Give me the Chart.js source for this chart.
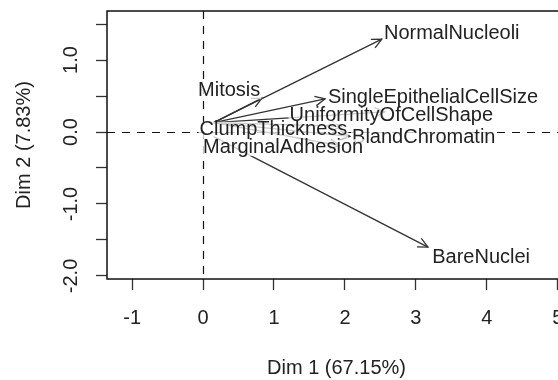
<!DOCTYPE html>
<html>
<head>
<meta charset="utf-8">
<script src="https://cdn.jsdelivr.net/npm/chart.js@4.4.1/dist/chart.umd.min.js"></script>
<style>
  html, body { margin: 0; padding: 0; background: #fff; overflow: hidden; }
  #wrap { width: 580px; height: 380px; }
</style>
</head>
<body>
<div id="wrap"><canvas id="biplot"></canvas></div>
<script>
// variable arrows on Dim 1 / Dim 2 (tips = loadings)
const varNames = ['NormalNucleoli', 'SingleEpithelialCellSize', 'UniformityOfCellShape', 'ClumpThickness',
                  'BlandChromatin', 'MarginalAdhesion', 'Mitosis', 'BareNuclei'];
const tipX = [2.52, 1.72, 2.56, 1.95, 2.07, 1.93, 0.83, 3.17];
const tipY = [1.29, 0.46, 0.28, 0.08, -0.06, -0.19, 0.47, -1.60];
const startX = [0.15, 0.15, 0.15, 0.15, 0.15, 0.15, 0.15, 0.15];
const startY = [0.13, 0.13, 0.13, 0.13, 0.13, 0.13, 0.13, -0.065];
// label anchors (left edge, middle) in Dim units
const labelX = [2.55, 1.76, 1.22, -0.05, 2.10, 0.0, -0.07, 3.23];
const labelY = [1.375, 0.486, 0.236, 0.03, -0.07, -0.21, 0.58, -1.74];

const xTicks = [-1, 0, 1, 2, 3, 4, 5];
const yTicks = [-2, -1.5, -1, -0.5, 0, 0.5, 1, 1.5];
const yLabelled = [-2, -1, 0, 1];

const FONT = '"Liberation Sans", Arial, sans-serif';
const INK = '#222';

const datasets = varNames.map((name, i) => ({
    label: name,
    data: [{ x: startX[i], y: startY[i] }, { x: tipX[i], y: tipY[i] }],
    showLine: true,
    borderColor: '#333',
    borderWidth: 1.3,
    pointRadius: 0,
    pointHoverRadius: 0,
}));

// box, dashed zero lines, arrow heads and labels
const biplotDecor = {
    id: 'biplotDecor',
    beforeDatasetsDraw(chart) {
        const { ctx, chartArea: a, scales: { x, y } } = chart;
        ctx.save();
        ctx.strokeStyle = '#111';
        ctx.lineWidth = 1.2;
        ctx.setLineDash([8, 7]);
        const x0 = Math.round(x.getPixelForValue(0)) + 0.5;
        const y0 = Math.round(y.getPixelForValue(0)) + 0.5;
        ctx.beginPath();
        ctx.moveTo(x0, a.top); ctx.lineTo(x0, a.bottom);
        ctx.moveTo(a.left, y0); ctx.lineTo(a.right, y0);
        ctx.stroke();
        ctx.restore();
    },
    afterDatasetsDraw(chart) {
        const { ctx, chartArea: a, scales: { x, y } } = chart;
        ctx.save();
        // arrow heads (open V)
        ctx.strokeStyle = '#333';
        ctx.lineWidth = 1.3;
        varNames.forEach((n, i) => {
            const sx = x.getPixelForValue(startX[i]), sy = y.getPixelForValue(startY[i]);
            const tx = x.getPixelForValue(tipX[i]), ty = y.getPixelForValue(tipY[i]);
            const ang = Math.atan2(ty - sy, tx - sx);
            const len = 11, spread = Math.PI / 7;
            ctx.beginPath();
            ctx.moveTo(tx - len * Math.cos(ang - spread), ty - len * Math.sin(ang - spread));
            ctx.lineTo(tx, ty);
            ctx.lineTo(tx - len * Math.cos(ang + spread), ty - len * Math.sin(ang + spread));
            ctx.stroke();
        });
        // labels on a light backing so arrows fade behind them
        ctx.font = '20px ' + FONT;
        ctx.textBaseline = 'middle';
        ctx.textAlign = 'left';
        varNames.forEach((n, i) => {
            const lx = x.getPixelForValue(labelX[i]), ly = y.getPixelForValue(labelY[i]);
            const w = ctx.measureText(n).width;
            ctx.fillStyle = 'rgba(255,255,255,0.75)';
            ctx.fillRect(lx - 1, ly - 8, w + 2, 17);
            ctx.fillStyle = INK;
            ctx.fillText(n, lx, ly);
        });
        // plot frame
        ctx.strokeStyle = '#111';
        ctx.lineWidth = 1.5;
        ctx.strokeRect(a.left, a.top, a.right - a.left, a.bottom - a.top);
        ctx.restore();
    }
};

new Chart(document.getElementById('biplot'), {
    type: 'scatter',
    data: { datasets },
    options: {
        responsive: true,
        maintainAspectRatio: false,
        animation: false,
        events: [],
        layout: { padding: { left: 0, top: 11, right: 14, bottom: 0 } },
        plugins: { legend: { display: false }, tooltip: { enabled: false } },
        scales: {
            x: {
                type: 'linear',
                min: -1.354,
                max: 5.116,
                afterBuildTicks: s => { s.ticks = xTicks.map(v => ({ value: v })); },
                afterFit: s => { s.height = 101; s.paddingLeft = 0; s.paddingRight = 0; },
                grid: { drawOnChartArea: false, drawTicks: true, tickLength: 11, color: '#333', tickWidth: 1.3 },
                border: { display: false },
                ticks: {
                    autoSkip: false, maxRotation: 0, padding: 16,
                    color: INK, font: { family: FONT, size: 20 },
                    callback: v => String(v)
                },
                title: {
                    display: true, text: 'Dim 1 (67.15%)', color: INK,
                    font: { family: FONT, size: 20 }, padding: { top: 0, bottom: 0 }
                }
            },
            y: {
                type: 'linear',
                min: -2.042,
                max: 1.681,
                afterBuildTicks: s => { s.ticks = yTicks.map(v => ({ value: v })); },
                afterFit: s => { s.width = 107; s.paddingTop = 0; s.paddingBottom = 0; },
                grid: { drawOnChartArea: false, drawTicks: true, tickLength: 11, color: '#333', tickWidth: 1.3 },
                border: { display: false },
                ticks: {
                    autoSkip: false, minRotation: 90, maxRotation: 90, padding: 7,
                    crossAlign: 'center',
                    color: INK, font: { family: FONT, size: 20 },
                    callback: v => yLabelled.includes(v) ? v.toFixed(1) : ''
                },
                title: {
                    display: true, text: 'Dim 2 (7.83%)', color: INK,
                    font: { family: FONT, size: 20 }, padding: { top: 12, bottom: 0 }
                }
            }
        }
    },
    plugins: [biplotDecor]
});
</script>
</body>
</html>
